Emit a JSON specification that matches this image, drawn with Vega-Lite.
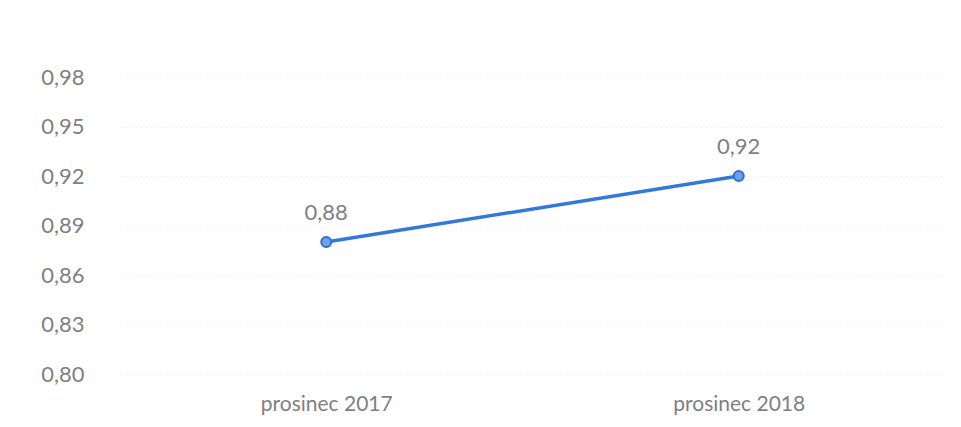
{
  "$schema": "https://vega.github.io/schema/vega-lite/v6.json",
  "width": 825,
  "height": 297,
  "autosize": {"type": "none"},
  "padding": {"left": 120, "top": 77, "right": 16, "bottom": 53},
  "background": "white",
  "config": {
    "view": {"stroke": null},
    "locale": {"number": {"decimal": ",", "thousands": " ", "grouping": [3], "currency": ["", " Kč"]}},
    "font": "Lato"
  },
  "data": {"values": [
    {"period": "prosinec 2017", "value": 0.88},
    {"period": "prosinec 2018", "value": 0.92}
  ]},
  "encoding": {
    "x": {"field": "period", "type": "ordinal", "sort": null,
      "scale": {"type": "point", "padding": 0.5},
      "axis": {"title": null, "labelAngle": 0, "domain": false, "ticks": false, "labelPadding": 19,
        "labelFont": "Lato", "labelFontSize": 21, "labelColor": "#7f7f7f", "grid": false}},
    "y": {"field": "value", "type": "quantitative",
      "scale": {"domain": [0.8, 0.98], "nice": false, "zero": false},
      "axis": {"title": null, "values": [0.8, 0.83, 0.86, 0.89, 0.92, 0.95, 0.98], "format": ".2f",
        "domain": false, "ticks": false, "labelPadding": 36, "labelFont": "Lato", "labelFontSize": 22,
        "labelColor": "#7f7f7f", "gridColor": "#f3f3f3", "gridDash": [2, 3]}}
  },
  "layer": [
    {"mark": {"type": "line", "color": "#3578dc", "strokeWidth": 3.5}},
    {"mark": {"type": "point", "filled": true, "size": 100, "fill": "#6ea2ec", "stroke": "#2f6fd0", "strokeWidth": 2, "opacity": 1}},
    {"mark": {"type": "text", "dy": -29, "font": "Lato", "fontSize": 22, "color": "#7f7f7f"},
      "encoding": {"text": {"field": "value", "type": "quantitative", "format": ".2f"}}}
  ]
}
